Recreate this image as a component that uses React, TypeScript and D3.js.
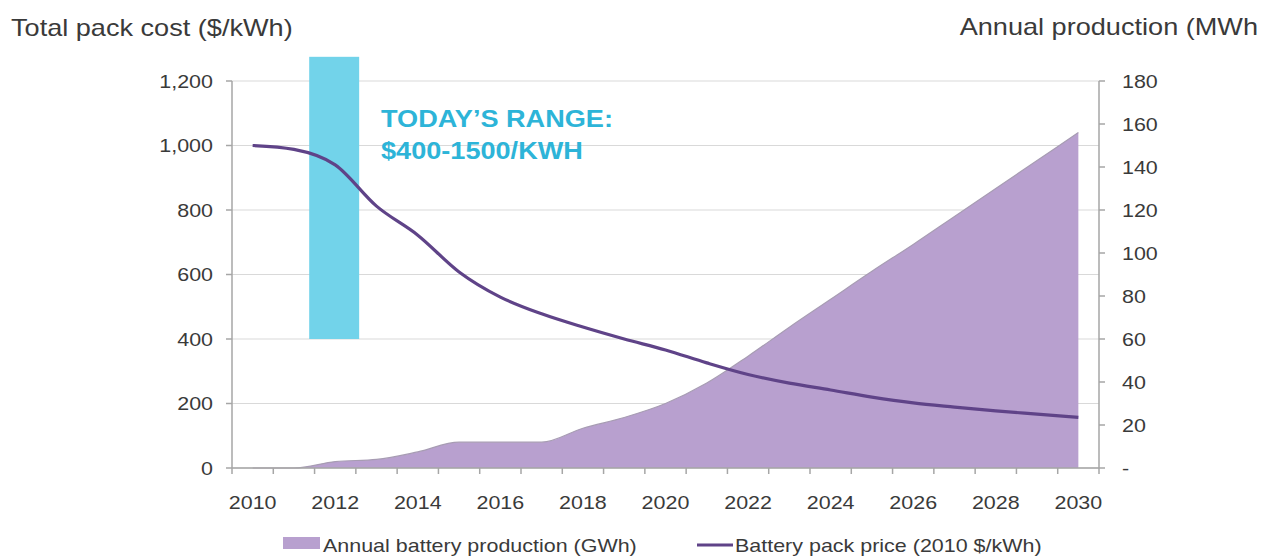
import React from "react";
import * as d3 from "d3";

const years = d3.range(2010, 2031);
const packPrice = [1000, 988, 940, 812, 722, 608, 530, 478, 437, 400, 366, 326, 290, 263, 242, 220, 202, 189, 177, 167, 157];
const production = [0, 0, 3, 4, 7.5, 12, 12, 12, 18.5, 23.5, 30, 39.5, 52, 65.5, 78.5, 91.5, 104, 117, 130, 143, 156];
const leftTicks = [0, 200, 400, 600, 800, 1000, 1200];
const rightTicks = [0, 20, 40, 60, 80, 100, 120, 140, 160, 180];
const labelYears = [2010, 2012, 2014, 2016, 2018, 2020, 2022, 2024, 2026, 2028, 2030];
const todayRangeYears = [2011.37, 2012.58];
const todayRangeValues = [400, 1275];
const annotationLines = ["TODAY\u2019S RANGE:", "$400-1500/KWH"];
const leftTitle = "Total pack cost ($/kWh)";
const rightTitle = "Annual production (MWh";
const legendArea = "Annual battery production (GWh)";
const legendLine = "Battery pack price (2010 $/kWh)";

const W = 1275;
const H = 557;
const PL = 232;
const PR = 1099;
const PT = 81;
const PB = 468;
const SX = 1.13;

const FONT = "Arial, 'Liberation Sans', Helvetica, sans-serif";
const TXT = "#3a3a3a";
const AXIS = "#a6a6a6";
const GRID = "#d9d9d9";
const AREA = "#b8a0cf";
const LINE = "#5f4388";
const CYAN = "#72d3ea";
const CYAN_TXT = "#2db4d8";

type TProps = {
  x: number;
  y: number;
  size: number;
  anchor?: "start" | "middle" | "end";
  fill?: string;
  weight?: string;
  dy?: string;
  children: React.ReactNode;
};

function T({ x, y, size, anchor = "start", fill = TXT, weight = "normal", dy, children }: TProps) {
  return (
    <text
      transform={`translate(${x},${y}) scale(${SX},1)`}
      fontSize={size}
      fontWeight={weight}
      fill={fill}
      textAnchor={anchor}
      dy={dy}
    >
      {children}
    </text>
  );
}

export default function App() {
  const x = d3.scaleBand<number>().domain(years).range([PL, PR]).padding(0);
  const bw = x.bandwidth();
  const cx = (y: number) => (x(y) as number) + bw / 2;
  const xYear = d3.scaleLinear().domain([2010, 2030]).range([cx(2010), cx(2030)]);
  const yL = d3.scaleLinear().domain([0, 1200]).range([PB, PT]);
  const yR = d3.scaleLinear().domain([0, 180]).range([PB, PT]);

  const areaGen = d3
    .area<number>()
    .x((_, i) => cx(years[i]))
    .y0(yR(0))
    .y1((d) => yR(d))
    .curve(d3.curveMonotoneX);
  const topGen = d3
    .line<number>()
    .x((_, i) => cx(years[i]))
    .y((d) => yR(d))
    .curve(d3.curveMonotoneX);
  const lineGen = d3
    .line<number>()
    .x((_, i) => cx(years[i]))
    .y((d) => yL(d))
    .curve(d3.curveMonotoneX);

  const boundaries = d3.range(years.length + 1).map((i) => PL + i * bw);

  return (
    <svg width={W} height={H} style={{ position: "absolute", left: 0, top: 0, background: "#fff" }} fontFamily={FONT}>
      <rect x={0} y={0} width={W} height={H} fill="#fff" />
      <T x={11} y={36} size={24}>{leftTitle}</T>
      <T x={1258} y={35} size={24} anchor="end">{rightTitle}</T>

      {leftTicks.map((t) => (
        <line key={"g" + t} x1={PL} x2={PR} y1={yL(t)} y2={yL(t)} stroke={GRID} strokeWidth={1.2} />
      ))}

      <path d={areaGen(production) || ""} fill={AREA} />
      <path d={topGen(production) || ""} fill="none" stroke="#a79cb3" strokeWidth={1.2} />

      <rect
        x={xYear(todayRangeYears[0])}
        y={yL(todayRangeValues[1])}
        width={xYear(todayRangeYears[1]) - xYear(todayRangeYears[0])}
        height={yL(todayRangeValues[0]) - yL(todayRangeValues[1])}
        fill={CYAN}
      />

      <path d={lineGen(packPrice) || ""} fill="none" stroke={LINE} strokeWidth={3.2} strokeLinejoin="round" />

      {annotationLines.map((s, i) => (
        <T key={s} x={381} y={127 + i * 32} size={24} weight="bold" fill={CYAN_TXT}>{s}</T>
      ))}

      {/* axes */}
      <line x1={PL} x2={PL} y1={PT} y2={PB} stroke={AXIS} strokeWidth={1.5} />
      <line x1={PR} x2={PR} y1={PT} y2={PB} stroke={AXIS} strokeWidth={1.5} />
      <line x1={PL} x2={PR} y1={PB} y2={PB} stroke={AXIS} strokeWidth={1.5} />

      {leftTicks.map((t) => (
        <g key={"l" + t}>
          <line x1={PL - 6} x2={PL} y1={yL(t)} y2={yL(t)} stroke={AXIS} strokeWidth={1.5} />
          <T x={213} y={yL(t)} dy="0.36em" size={19} anchor="end">{d3.format(",")(t)}</T>
        </g>
      ))}
      {rightTicks.map((t) => (
        <g key={"r" + t}>
          <line x1={PR} x2={PR + 6} y1={yR(t)} y2={yR(t)} stroke={AXIS} strokeWidth={1.5} />
          <T x={1122} y={yR(t)} dy="0.36em" size={19}>{t === 0 ? "-" : String(t)}</T>
        </g>
      ))}
      {boundaries.map((b, i) => (
        <line key={"b" + i} x1={b} x2={b} y1={PB} y2={PB + 6} stroke={AXIS} strokeWidth={1.5} />
      ))}
      {labelYears.map((yr) => (
        <T key={"x" + yr} x={cx(yr)} y={509} size={19} anchor="middle">{yr}</T>
      ))}

      {/* legend */}
      <rect x={283} y={537} width={37} height={12} fill={AREA} />
      <T x={323} y={552} size={19}>{legendArea}</T>
      <line x1={697} x2={733} y1={545} y2={545} stroke={LINE} strokeWidth={3.2} />
      <T x={735} y={552} size={19}>{legendLine}</T>
    </svg>
  );
}
